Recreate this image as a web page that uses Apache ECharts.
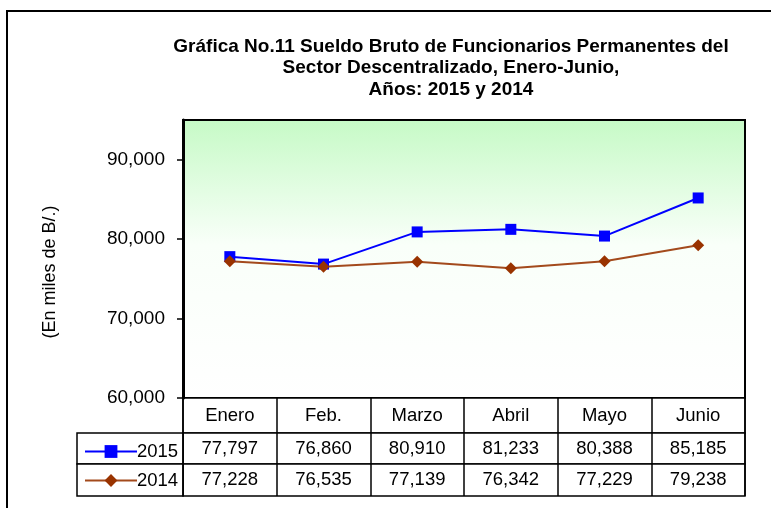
<!DOCTYPE html>
<html>
<head>
<meta charset="utf-8">
<script src="https://cdn.jsdelivr.net/npm/echarts@6/dist/echarts.min.js"></script>
<style>
    html, body { margin: 0; padding: 0; background: #fff; }
    #chart { width: 771px; height: 508px; }
</style>
</head>
<body>
<div id="chart"></div>
<script>
    // datos
    var months = ['Enero', 'Feb.', 'Marzo', 'Abril', 'Mayo', 'Junio'];
    var seriesNames = ['2015', '2014'];
    var values2015 = [77797, 76860, 80910, 81233, 80388, 85185];
    var values2014 = [77228, 76535, 77139, 76342, 77229, 79238];
    var yTicks = [60000, 70000, 80000, 90000];

    var FONT = 'Liberation Sans, Arial, sans-serif';
    var fmt = function(v) { return Number(v).toLocaleString('en-US'); };

    // filas de la tabla
    var plotLeft = 183, plotWidth = 562;
    var rows = [
        {top: 398, height: 35, data: months},
        {top: 433, height: 31, data: values2015.map(fmt)},
        {top: 464, height: 32, data: values2014.map(fmt)}
    ];

    var grids = [{
        left: plotLeft, top: 120, width: plotWidth, height: 278,
        show: true,
        borderColor: '#000', borderWidth: 2,
        backgroundColor: {
            type: 'linear', x: 0, y: 0, x2: 0, y2: 1,
            colorStops: [
                {offset: 0, color: '#c6fac6'},
                {offset: 0.45, color: '#f9fff9'},
                {offset: 1, color: '#ffffff'}
            ]
        }
    }];
    var xAxes = [{
        type: 'category', gridIndex: 0, data: months, boundaryGap: true,
        axisLine: {show: false}, axisTick: {show: false}, axisLabel: {show: false}
    }];
    var yAxes = [{
        type: 'value', gridIndex: 0, min: 60000, max: 95000, interval: 10000,
        splitLine: {show: false},
        axisLine: {show: true, lineStyle: {color: '#000', width: 3}},
        axisTick: {show: true, length: 6, customValues: yTicks, lineStyle: {color: '#000', width: 1.5}},
        axisLabel: {
            customValues: yTicks, margin: 18,
            fontFamily: FONT, fontSize: 19, color: '#000',
            formatter: fmt
        },
        name: '(En miles de B/.)',
        nameLocation: 'middle', nameRotate: 90, nameGap: 124,
        nameTextStyle: {fontFamily: FONT, fontSize: 18, color: '#000', padding: [0, 0, 0, -26]}
    }];

    rows.forEach(function(r, i) {
        grids.push({
            left: plotLeft, top: r.top, width: plotWidth, height: r.height,
            show: true, borderColor: '#000', borderWidth: 1.5, backgroundColor: '#fff'
        });
        xAxes.push({
            type: 'category', gridIndex: i + 1, data: r.data, position: 'top',
            axisLine: {show: false}, axisTick: {show: false},
            splitLine: {show: true, interval: 0, lineStyle: {color: '#000', width: 1.5}},
            axisLabel: {
                interval: 0, margin: -r.height / 2, verticalAlign: 'middle',
                fontFamily: FONT, fontSize: 18.5, color: '#000'
            }
        });
        yAxes.push({type: 'value', gridIndex: i + 1, show: false});
    });

    // celdas de la leyenda
    rows.slice(1).forEach(function(r) {
        var idx = grids.length;
        grids.push({
            left: 77, top: r.top, width: plotLeft - 77, height: r.height,
            show: true, borderColor: '#000', borderWidth: 1.5, backgroundColor: '#fff'
        });
        xAxes.push({type: 'category', gridIndex: idx, data: [''], show: false});
        yAxes.push({type: 'value', gridIndex: idx, show: false});
    });

    var option = {
        backgroundColor: '#fff',
        animation: false,
        title: {
            text: 'Gráfica No.11 Sueldo Bruto de Funcionarios Permanentes del\nSector Descentralizado, Enero-Junio,\nAños: 2015 y 2014',
            left: 446, top: 31, textAlign: 'center',
            textStyle: {fontFamily: FONT, fontSize: 19, fontWeight: 'bold', color: '#000', lineHeight: 21.5}
        },
        legend: {
            data: seriesNames,
            orient: 'vertical', left: 79, top: 437, itemGap: 10,
            itemWidth: 52, itemHeight: 16,
            textStyle: {fontFamily: FONT, fontSize: 18.5, color: '#000', padding: [0, 0, 0, -5]}
        },
        graphic: [{
            type: 'rect', silent: true, z: -1,
            shape: {x: 7, y: 11, width: 800, height: 520},
            style: {fill: 'none', stroke: '#000', lineWidth: 2}
        }],
        grid: grids,
        xAxis: xAxes,
        yAxis: yAxes,
        series: [{
            name: seriesNames[0], type: 'line', xAxisIndex: 0, yAxisIndex: 0,
            data: values2015,
            symbol: 'rect', symbolSize: 11,
            itemStyle: {color: '#0000ff'},
            lineStyle: {color: '#0000ff', width: 2}
        }, {
            name: seriesNames[1], type: 'line', xAxisIndex: 0, yAxisIndex: 0,
            data: values2014,
            symbol: 'diamond', symbolSize: 12,
            itemStyle: {color: '#993300'},
            lineStyle: {color: '#a34a1c', width: 2}
        }]
    };

    var myChart = echarts.init(document.getElementById('chart'));
    myChart.setOption(option);
</script>
</body>
</html>
